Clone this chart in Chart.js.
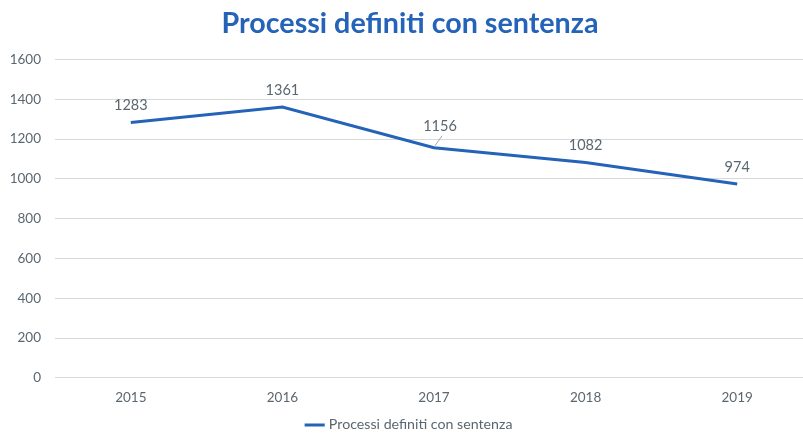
<!DOCTYPE html>
<html><head><meta charset="utf-8">
<script src="https://cdn.jsdelivr.net/npm/chart.js@4"></script>
<style>html,body{margin:0;padding:0;overflow:hidden;background:#fff}#wrap{width:829px;height:434px}</style>
</head><body><div id="wrap"><canvas id="c" width="829" height="434"></canvas></div>
<script>
const categories = ["2015","2016","2017","2018","2019"];
const seriesName = "Processi definiti con sentenza";
const values = [1283,1361,1156,1082,974];
const yTicks = [0,200,400,600,800,1000,1200,1400,1600];

const FONT = 'Lato, "Open Sans", sans-serif';
const TEXT = '#5B6770';
const BLUE = '#2563B8';
// label placement style (index 2 uses a leader line like the original)
const labelStyle = {dy:-17, special:{2:{dx:6, dy:-21, leader:true}}};

const labelPlugin = {
  id:'labels',
  afterDatasetsDraw(chart){
    const ctx = chart.ctx;
    const meta = chart.getDatasetMeta(0);
    ctx.save();
    ctx.font = '14.5px ' + FONT;
    ctx.fillStyle = TEXT;
    ctx.textAlign = 'center';
    ctx.textBaseline = 'middle';
    meta.data.forEach((pt,i)=>{
      const s = labelStyle.special[i] || {dx:0, dy:labelStyle.dy};
      const x = pt.x + s.dx, y = pt.y + s.dy;
      if (s.leader) {
        ctx.strokeStyle = '#A6A6A6'; ctx.lineWidth = 1;
        ctx.beginPath(); ctx.moveTo(pt.x + 1, pt.y - 2); ctx.lineTo(x + 2, y + 9); ctx.stroke();
      }
      ctx.fillText(String(values[i]), x, y);
    });
    ctx.restore();
  }
};

new Chart(document.getElementById('c'),{
  type:'line',
  data:{labels:categories,datasets:[{label:seriesName,data:values,borderColor:BLUE,backgroundColor:BLUE,borderWidth:3,pointRadius:0,tension:0}]},
  options:{
    responsive:false,animation:false,
    layout:{padding:{left:7,right:16,top:0,bottom:-8}},
    plugins:{
      title:{display:true,text:seriesName,color:BLUE,font:{family:FONT,size:28.7,weight:'bold'},padding:{top:7,bottom:18}},
      legend:{position:'bottom',labels:{usePointStyle:true,pointStyle:'line',boxWidth:27,padding:3,color:TEXT,font:{family:FONT,size:14.2}}},
      tooltip:{enabled:false}
    },
    scales:{
      x:{offset:true,grid:{display:false},border:{display:false},
         afterFit(s){s.height=37;},
         ticks:{color:TEXT,padding:4,font:{family:FONT,size:13.5}}},
      y:{min:0,max:1600,afterBuildTicks(s){s.ticks=yTicks.map(v=>({value:v}));},
         afterFit(s){s.width=48;},
         grid:{color:'#D9D9D9',drawTicks:false},border:{display:false},
         ticks:{color:TEXT,padding:14,callback:(v)=>String(v),font:{family:FONT,size:13.5}}}
    }
  },
  plugins:[labelPlugin]
});
</script></body></html>
